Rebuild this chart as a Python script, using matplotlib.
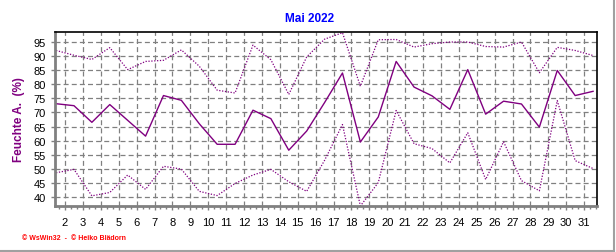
import matplotlib
matplotlib.use("Agg")
import matplotlib.pyplot as plt
from matplotlib.lines import Line2D
from matplotlib.ticker import MultipleLocator

# Tageswerte Mai 2022, relative Feuchte aussen (%)
days = list(range(1, 32))
hum_max = [92.0, 90.3, 88.8, 93.0, 85.2, 88.1, 88.5, 92.2, 86.4, 77.9,
           76.9, 93.9, 88.7, 76.4, 89.7, 96.0, 98.3, 79.3, 95.8, 95.9,
           93.2, 94.4, 95.0, 95.0, 93.4, 93.2, 95.0, 84.1, 93.1, 92.0, 90.2]
hum_mean = [73.1, 72.4, 66.5, 72.8, 67.2, 61.6, 76.0, 74.3, 66.0, 58.7,
            58.7, 70.8, 67.8, 56.6, 63.4, 73.5, 84.0, 59.5, 68.4, 88.1,
            79.0, 75.9, 71.1, 85.2, 69.4, 74.0, 73.0, 64.8, 84.9, 76.0, 77.5]
hum_min = [48.6, 49.8, 40.4, 41.6, 47.8, 42.7, 50.9, 49.9, 42.0, 40.5,
           44.8, 47.8, 49.8, 45.4, 42.0, 53.0, 65.7, 36.8, 45.1, 70.7,
           58.9, 57.2, 52.1, 62.8, 46.2, 59.6, 45.8, 42.2, 74.2, 52.9, 50.1]
tick_days = list(range(2, 32))
y_ticks = list(range(40, 100, 5))

PURPLE = "#800080"

plt.rcParams['font.family'] = ['Liberation Sans', 'DejaVu Sans']

fig = plt.figure(figsize=(6.16, 2.53), dpi=100)
ax = fig.add_axes([55 / 616, 1 - 207 / 253, (597 - 55) / 616, (207 - 33) / 253])

# Werte jeweils in Tagesmitte
xpos = [d + 0.5 for d in days]
ax.plot(xpos, hum_max, color=PURPLE, lw=0.9, linestyle=(0, (1, 1.3)))
ax.plot(xpos, hum_mean, color=PURPLE, lw=1.0)
ax.plot(xpos, hum_min, color=PURPLE, lw=0.9, linestyle=(0, (1, 1.3)))

ax.set_xlim(1.44, 31.72)
ax.set_ylim(36.8, 98.55)
ax.set_xticks(tick_days)
ax.set_xticklabels([str(d) for d in tick_days])
ax.set_yticks(y_ticks)
ax.xaxis.set_minor_locator(MultipleLocator(1 / 3))

ax.grid(True, which='major', color='#808080', linestyle=(0, (4, 2.5)), lw=0.9)
ax.set_axisbelow(True)

ax.tick_params(axis='both', which='major', labelsize=8, length=3, color='#808080', width=1)
ax.tick_params(axis='x', which='major', pad=5)
ax.tick_params(axis='x', which='minor', length=2, color='#808080', width=1)

for s in ['left', 'bottom']:
    ax.spines[s].set_color('#808080')
    ax.spines[s].set_linewidth(2)
for s in ['top', 'right']:
    ax.spines[s].set_color('black')
    ax.spines[s].set_linewidth(1.2)

ax.set_ylabel('Feuchte A.  (%)', color=PURPLE, fontsize=8.5, fontweight='bold', labelpad=6)

fig.text(0.503, 1 - 19 / 253, 'Mai 2022', color='#0000FF', fontsize=8.5,
         fontweight='bold', ha='center', va='center')
fig.text(22 / 616, 1 - 239 / 253, '\u00a9 WsWin32  -  \u00a9 Heiko Bl\u00e4dorn', color='red',
         fontsize=5, fontweight='bold', ha='left', va='center')

# grauer Rahmen rechts und unten
fig.add_artist(Line2D([613.5 / 616, 613.5 / 616], [1 - 251.5 / 253, 1], color='#a0a0a0', lw=1.5))
fig.add_artist(Line2D([0, 613.5 / 616], [1 - 251.5 / 253, 1 - 251.5 / 253], color='#a0a0a0', lw=1.5))

fig.savefig('out.png', dpi=100)
